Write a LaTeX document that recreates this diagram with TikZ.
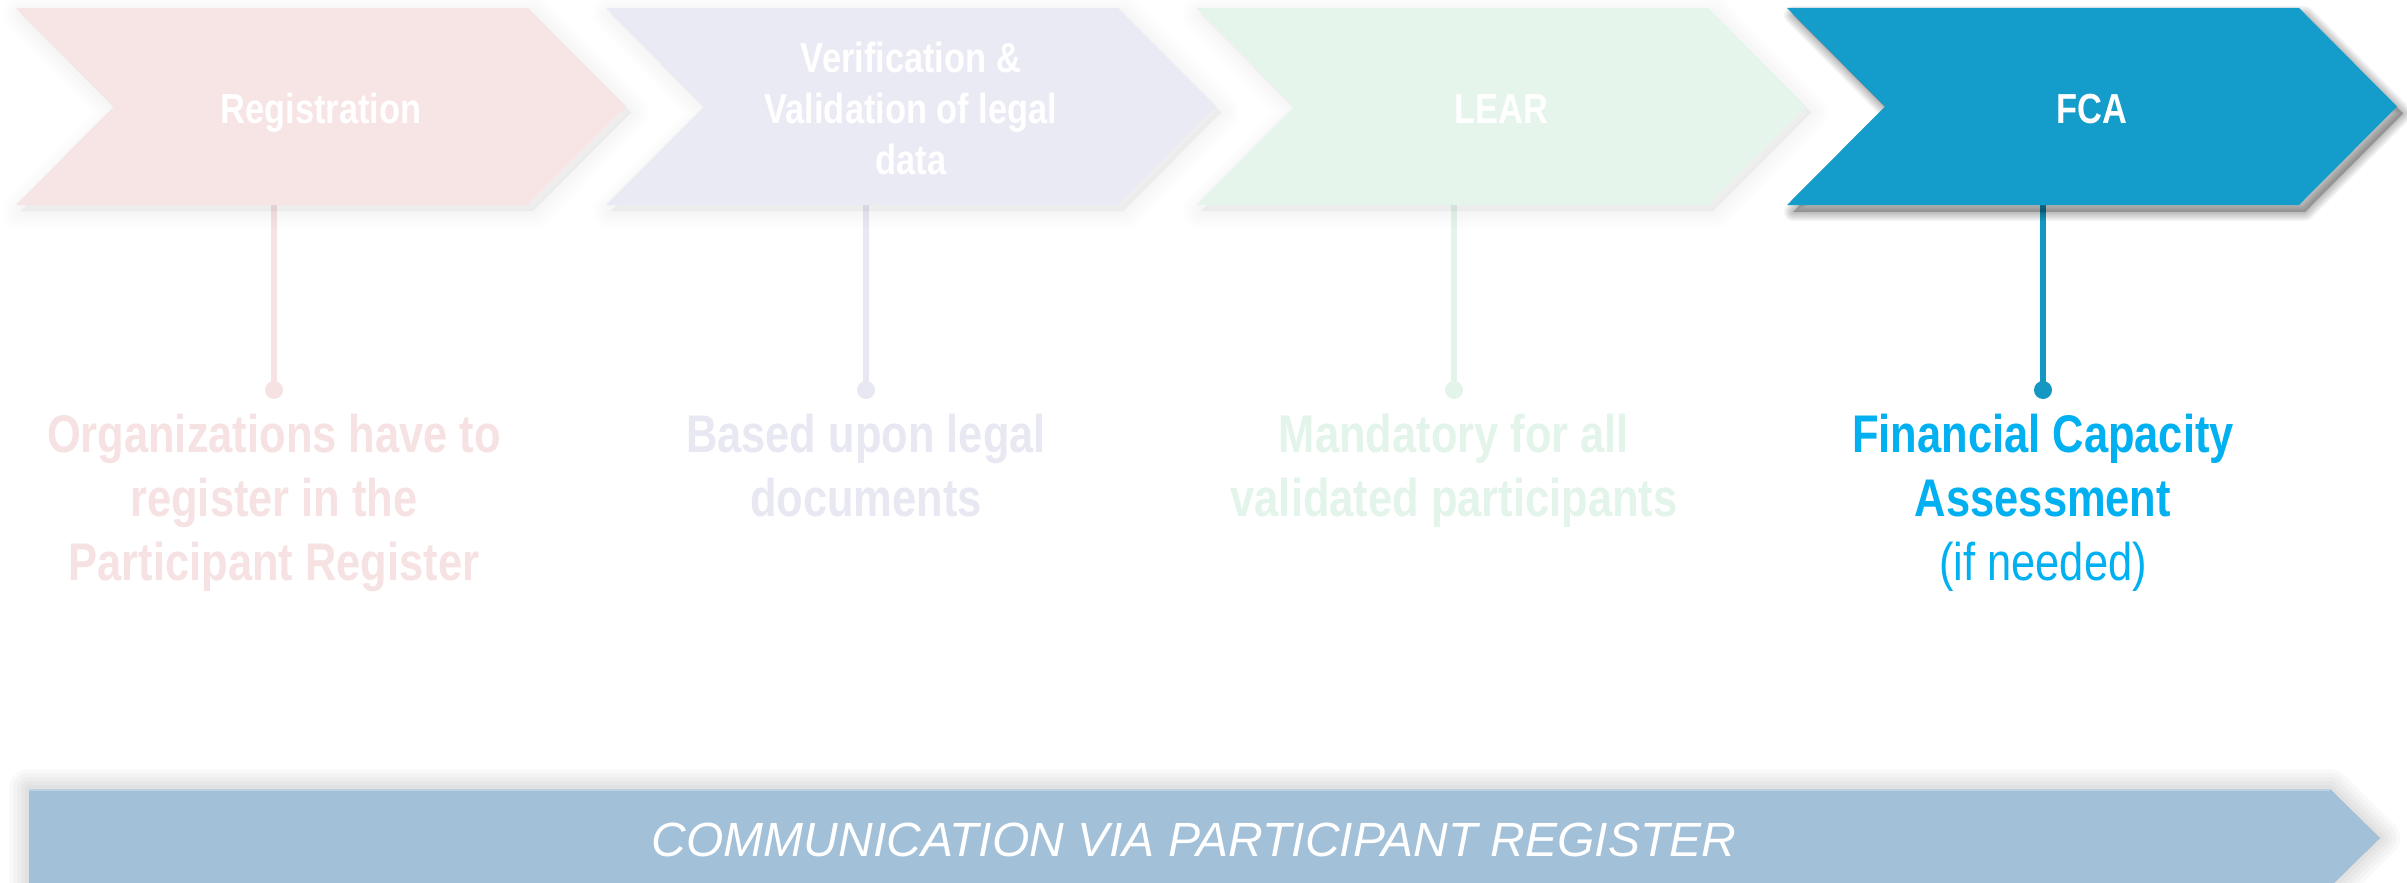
\documentclass[tikz,border=0pt]{standalone}
\usepackage{fontspec}
\setmainfont{Liberation Sans}
\newfontfamily\narrowsans[FakeStretch=0.82]{Liberation Sans}
\definecolor{pinkc}{HTML}{F7E4E4}
\definecolor{pinkt}{HTML}{F6E2E2}
\definecolor{lavc}{HTML}{EAEAF4}
\definecolor{lavt}{HTML}{E8E8F3}
\definecolor{mintc}{HTML}{E5F5EC}
\definecolor{mintt}{HTML}{E3F4EA}
\definecolor{fcac}{HTML}{149DCA}
\definecolor{fcal}{HTML}{1597C3}
\definecolor{fcat}{HTML}{00B0F0}
\definecolor{arrowc}{HTML}{A2C0D8}
\definecolor{arrowtop}{HTML}{BCD3E6}
% #1 left x, #2 fill colour, #3 shadow step opacity, #4 stroke widths, #5 shadow shift
\newcommand\mychev[5]{%
  \foreach \w in {#4}{%
    \path[fill=black,draw=black,fill opacity=#3,draw opacity=#3,line width=\w pt,line join=round,shift={(#5)}]
      (#1,8) -- ++(512,0) -- ++(98,98.5) -- ++(-98,98.5) -- ++(-512,0) -- ++(98,-98.5) -- cycle;}
  \fill[#2] (#1,8) -- ++(512,0) -- ++(98,98.5) -- ++(-98,98.5) -- ++(-512,0) -- ++(98,-98.5) -- cycle;}
\newcommand\tstrut{\rule{0pt}{40pt}}
\newcommand\bstrut{\rule{0pt}{50pt}}
\begin{document}
\begin{tikzpicture}[x=1pt,y=-1pt,
  steptitle/.style={anchor=north,inner sep=0pt,align=center,text=white,
    font=\narrowsans\bfseries\fontsize{42pt}{51pt}\selectfont},
  stepnote/.style={anchor=north,inner sep=0pt,align=center,
    font=\narrowsans\bfseries\fontsize{53pt}{64pt}\selectfont},
  dotnode/.style={circle,inner sep=0pt,minimum size=18pt},
  conn/.style={line width=6pt}]
\useasboundingbox (0,0) rectangle (2407,883);
\fill[white] (0,0) rectangle (2407,883);

% connector ends
\coordinate (b1) at (274,205);
\coordinate (b2) at (866,205);
\coordinate (b3) at (1454,205);
\coordinate (b4) at (2043,205);
\node[dotnode,fill=pinkt] (d1) at (274,390) {};
\node[dotnode,fill=lavt]  (d2) at (866,390) {};
\node[dotnode,fill=mintt] (d3) at (1454,390) {};
\node[dotnode,fill=fcal]  (d4) at (2043,390) {};
\draw[conn,pinkt] (b1) -- (d1.center);
\draw[conn,lavt]  (b2) -- (d2.center);
\draw[conn,mintt] (b3) -- (d3.center);
\draw[conn,fcal]  (b4) -- (d4.center);

% chevrons
\mychev{16}{pinkc}{0.007}{36,28,20,12,4}{5pt,-6pt}
\mychev{606}{lavc}{0.007}{36,28,20,12,4}{5pt,-6pt}
\mychev{1196}{mintc}{0.007}{36,28,20,12,4}{5pt,-6pt}
\mychev{1787}{fcac}{0.045}{18,15,12,9,6,3}{6pt,-7pt}

% chevron titles
\node[steptitle] (t1) at (321,83) {\tstrut Registration};
\node[steptitle] (t2) at (911,32) {\tstrut Verification \&\\Validation of legal\\data};
\node[steptitle] (t3) at (1501,83) {\tstrut LEAR};
\node[steptitle] (t4) at (2092,83) {\tstrut FCA};

% notes
\node[stepnote,text=pinkt] (n1) at (274,402) {\bstrut Organizations have to\\register in the\\Participant Register};
\node[stepnote,text=lavt]  (n2) at (866,402) {\bstrut Based upon legal\\documents};
\node[stepnote,text=mintt] (n3) at (1454,402) {\bstrut Mandatory for all\\validated participants};
\node[stepnote,text=fcat]  (n4) at (2043,402) {\bstrut Financial Capacity\\Assessment\\{\mdseries (if needed)}};

% bottom arrow with soft shadow
\foreach \w in {40,32,24,16,8}{%
  \path[fill=black,draw=black,fill opacity=0.025,draw opacity=0.025,line width=\w pt,line join=round]
    (29,789) -- (2330,789) -- (2380,838) -- (2330,887) -- (29,887) -- cycle;}
\fill[arrowc] (29,789) -- (2330,789) -- (2380,838) -- (2330,887) -- (29,887) -- cycle;
\draw[arrowtop,line width=2pt] (29,790) -- (2330,790);
\node[anchor=base,inner sep=0pt,text=white,font=\itshape\fontsize{48pt}{56pt}\selectfont] (comm) at (1194,856.5) {COMMUNICATION VIA PARTICIPANT REGISTER};
\end{tikzpicture}
\end{document}
